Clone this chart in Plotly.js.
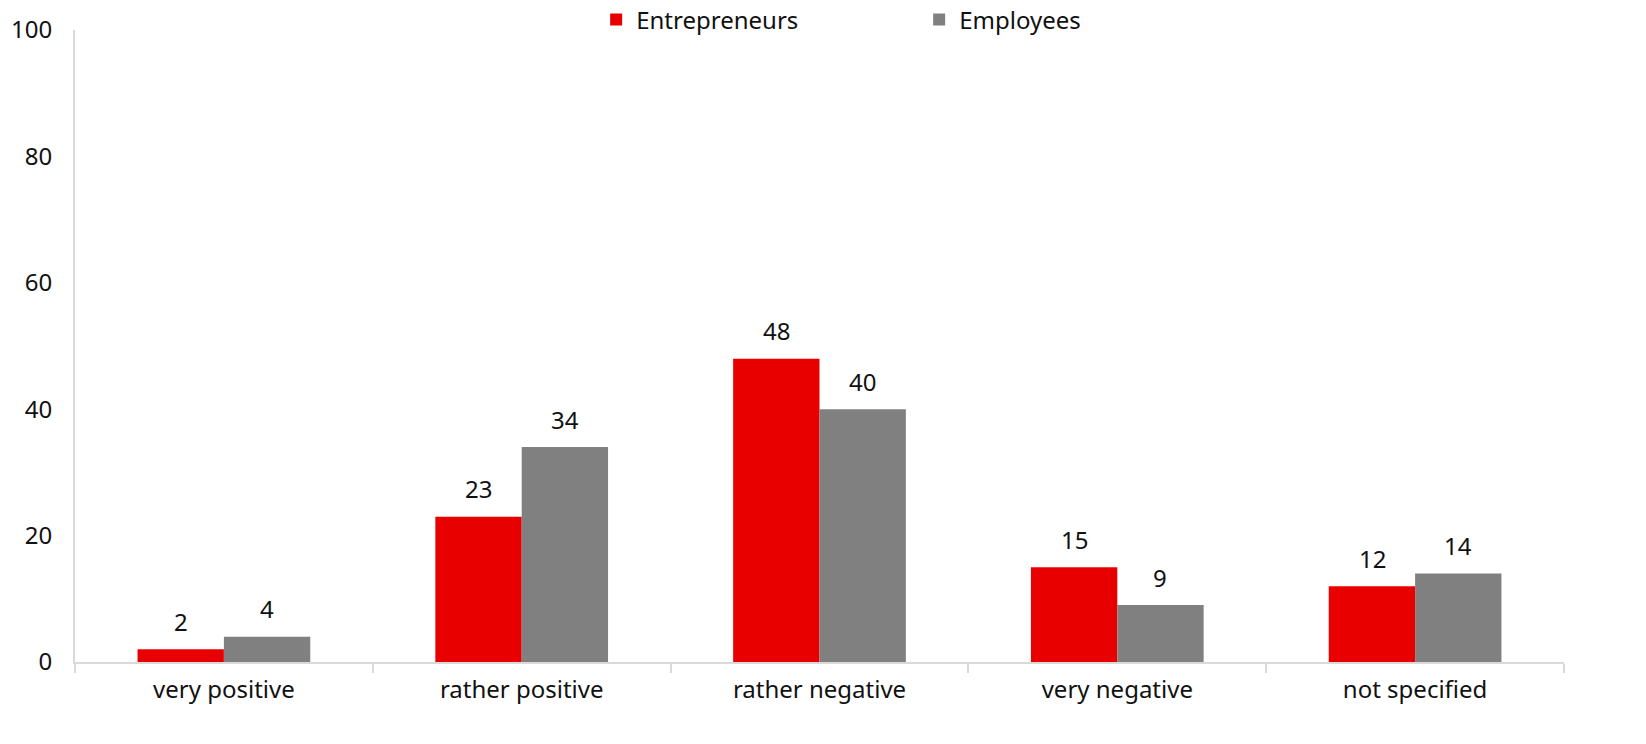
<!DOCTYPE html>
<html>
<head>
<meta charset="utf-8">
<script src="https://cdn.plot.ly/plotly-3.0.1.min.js"></script>
<style>html,body{margin:0;padding:0;background:#fff;}#chart{width:1646px;height:744px;}</style>
</head>
<body>
<div id="chart"></div>
<script>
const categories = ["very positive", "rather positive", "rather negative", "very negative", "not specified"];
const entrepreneurs = [2, 23, 48, 15, 12];
const employees = [4, 34, 40, 9, 14];
const yTicks = [0, 20, 40, 60, 80, 100];

const RED = "#e80000";
const GRAY = "#808080";
const FONT = "Noto Sans, sans-serif";
const FS = 24;

const traces = [
  {type: "bar", name: "Entrepreneurs", x: categories, y: entrepreneurs, marker: {color: RED}, hoverinfo: "x+y"},
  {type: "bar", name: "Employees", x: categories, y: employees, marker: {color: GRAY}, hoverinfo: "x+y"}
];

const annotations = [];
categories.forEach((c, i) => {
  annotations.push({x: c, y: entrepreneurs[i], text: String(entrepreneurs[i]), showarrow: false, xshift: -43, yshift: 28, font: {family: FONT, size: FS, color: "#111"}});
  annotations.push({x: c, y: employees[i], text: String(employees[i]), showarrow: false, xshift: 43, yshift: 28, font: {family: FONT, size: FS, color: "#111"}});
});

const layout = {
  width: 1646, height: 744,
  margin: {l: 75, r: 82, t: 30, b: 82, autoexpand: false},
  paper_bgcolor: "#fff", plot_bgcolor: "#fff",
  font: {family: FONT, size: FS, color: "#111"},
  barmode: "group", bargap: 0.42, bargroupgap: 0,
  showlegend: true,
  legend: {orientation: "h", x: 0.35, xanchor: "left", y: 1.016, yanchor: "middle", font: {family: FONT, size: FS, color: "#111"}, entrywidth: 278, entrywidthmode: "pixels", itemclick: false, traceorder: "normal"},
  xaxis: {type: "category", showline: true, linecolor: "#d9d9d9", linewidth: 2, ticks: "outside", tickson: "boundaries", ticklen: 9, tickcolor: "#d9d9d9", tickwidth: 2, showgrid: false, zeroline: false, ticklabelstandoff: 5, tickfont: {family: FONT, size: FS, color: "#111"}},
  yaxis: {range: [0, 100], tickvals: yTicks, ticktext: yTicks.map(String), showline: true, linecolor: "#d9d9d9", linewidth: 2, ticks: "", showgrid: false, zeroline: false, ticklabelstandoff: 16, tickfont: {family: FONT, size: FS, color: "#111"}},
  annotations: annotations
};

Plotly.newPlot("chart", traces, layout, {displayModeBar: false, staticPlot: true});
</script>
</body>
</html>
